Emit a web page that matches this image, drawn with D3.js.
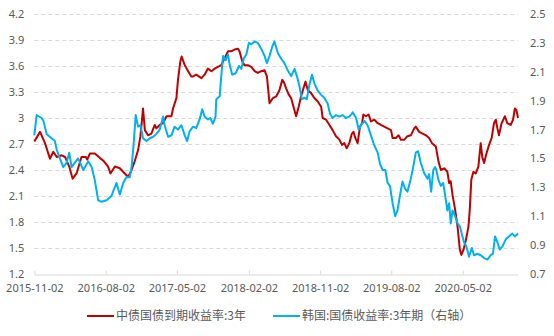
<!DOCTYPE html>
<html>
<head>
<meta charset="utf-8">
<script src="https://cdn.jsdelivr.net/npm/d3@7"></script>
<style>
  html, body { margin: 0; padding: 0; background: #fff; }
  svg { display: block; font-family: "Noto Sans CJK SC", "Noto Sans", sans-serif; }
</style>
</head>
<body>
<svg id="chart" width="554" height="336"></svg>
<script>
// 中债国债到期收益率:3年 (左轴, %)
const cnSeries = [
  ["2015-11-02",2.73],["2015-11-24",2.84],["2015-12-13",2.71],["2016-01-01",2.53],["2016-01-14",2.61],
  ["2016-01-27",2.55],["2016-02-15",2.57],["2016-02-28",2.55],["2016-03-15",2.44],["2016-03-28",2.30],
  ["2016-04-12",2.36],["2016-04-22",2.46],["2016-05-01",2.55],["2016-05-18",2.55],["2016-05-23",2.52],
  ["2016-06-02",2.59],["2016-06-21",2.59],["2016-07-10",2.54],["2016-07-26",2.50],["2016-08-11",2.44],
  ["2016-08-20",2.36],["2016-09-06",2.44],["2016-09-25",2.42],["2016-10-14",2.36],["2016-10-27",2.32],
  ["2016-11-09",2.40],["2016-11-21",2.50],["2016-12-04",2.63],["2016-12-13",2.79],["2016-12-19",2.98],
  ["2016-12-23",3.11],["2016-12-30",2.86],["2017-01-11",2.80],["2017-01-24",2.82],["2017-02-06",2.92],
  ["2017-02-12",2.88],["2017-02-25",2.92],["2017-03-10",2.94],["2017-03-23",3.02],["2017-04-11",3.02],
  ["2017-04-17",3.11],["2017-04-30",3.23],["2017-05-06",3.44],["2017-05-15",3.65],["2017-05-20",3.71],
  ["2017-06-01",3.61],["2017-06-14",3.54],["2017-06-26",3.48],["2017-07-03",3.48],["2017-07-15",3.50],
  ["2017-08-04",3.46],["2017-08-16",3.50],["2017-08-29",3.57],["2017-09-11",3.54],["2017-09-24",3.57],
  ["2017-10-06",3.59],["2017-10-19",3.61],["2017-11-01",3.69],["2017-11-14",3.77],["2017-11-26",3.77],
  ["2017-12-09",3.79],["2017-12-22",3.80],["2017-12-28",3.77],["2018-01-08",3.65],["2018-01-16",3.61],
  ["2018-01-29",3.61],["2018-02-11",3.59],["2018-02-24",3.54],["2018-03-08",3.52],["2018-03-21",3.54],
  ["2018-04-03",3.55],["2018-04-12",3.48],["2018-04-18",3.30],["2018-04-22",3.17],["2018-05-05",3.23],
  ["2018-05-18",3.25],["2018-05-30",3.32],["2018-06-10",3.44],["2018-06-18",3.40],["2018-06-25",3.34],
  ["2018-07-05",3.27],["2018-07-14",3.23],["2018-07-23",3.13],["2018-08-02",3.02],["2018-08-12",3.13],
  ["2018-08-21",3.25],["2018-08-28",3.32],["2018-09-07",3.42],["2018-09-16",3.32],["2018-09-28",3.29],
  ["2018-10-11",3.23],["2018-10-24",3.19],["2018-11-06",3.13],["2018-11-12",3.00],["2018-11-25",2.98],
  ["2018-12-08",2.92],["2018-12-20",2.86],["2019-01-02",2.79],["2019-01-15",2.75],["2019-01-25",2.69],
  ["2019-02-03",2.71],["2019-02-12",2.65],["2019-02-22",2.71],["2019-03-04",2.82],["2019-03-10",2.84],
  ["2019-03-17",2.77],["2019-03-26",2.71],["2019-04-04",2.90],["2019-04-12",2.94],["2019-04-17",3.04],
  ["2019-04-27",3.02],["2019-05-07",3.04],["2019-05-16",2.96],["2019-05-29",2.98],["2019-06-11",2.94],
  ["2019-06-23",2.92],["2019-07-06",2.90],["2019-07-19",2.88],["2019-08-01",2.86],["2019-08-07",2.77],
  ["2019-08-20",2.77],["2019-08-30",2.80],["2019-09-08",2.75],["2019-09-21",2.75],["2019-10-03",2.79],
  ["2019-10-16",2.80],["2019-10-29",2.88],["2019-11-04",2.90],["2019-11-17",2.84],["2019-11-30",2.82],
  ["2019-12-13",2.80],["2019-12-25",2.77],["2020-01-05",2.71],["2020-01-20",2.67],["2020-01-30",2.50],
  ["2020-02-08",2.40],["2020-02-21",2.42],["2020-03-04",2.38],["2020-03-11",2.25],["2020-03-17",2.27],
  ["2020-03-24",2.11],["2020-04-03",1.94],["2020-04-12",1.75],["2020-04-21",1.48],["2020-04-27",1.42],
  ["2020-05-05",1.48],["2020-05-14",1.59],["2020-05-24",1.75],["2020-05-29",1.94],["2020-06-04",2.29],
  ["2020-06-12",2.38],["2020-06-21",2.36],["2020-07-01",2.44],["2020-07-10",2.71],["2020-07-16",2.55],
  ["2020-07-23",2.48],["2020-08-01",2.59],["2020-08-11",2.69],["2020-08-21",2.77],["2020-08-30",2.94],
  ["2020-09-06",2.98],["2020-09-12",2.88],["2020-09-18",2.80],["2020-09-28",2.94],["2020-10-11",3.02],
  ["2020-10-20",2.94],["2020-11-02",2.92],["2020-11-11",2.98],["2020-11-18",3.11],["2020-11-24",3.09],
  ["2020-11-30",3.00]
];

// 韩国:国债收益率:3年期 (右轴, %)
const krSeries = [
  ["2015-11-02",1.66],["2015-11-11",1.80],["2015-11-30",1.78],["2015-12-07",1.76],["2015-12-19",1.67],
  ["2016-01-07",1.64],["2016-01-20",1.62],["2016-01-27",1.56],["2016-02-08",1.50],["2016-02-21",1.44],
  ["2016-03-05",1.47],["2016-03-15",1.54],["2016-03-24",1.44],["2016-04-18",1.50],["2016-05-08",1.42],
  ["2016-05-27",1.48],["2016-06-09",1.44],["2016-06-21",1.35],["2016-07-04",1.21],["2016-07-17",1.20],
  ["2016-08-05",1.21],["2016-08-24",1.24],["2016-08-30",1.27],["2016-09-12",1.33],["2016-09-25",1.25],
  ["2016-10-08",1.33],["2016-10-20",1.37],["2016-11-02",1.37],["2016-11-09",1.44],["2016-11-17",1.60],
  ["2016-11-25",1.80],["2016-12-04",1.72],["2016-12-13",1.73],["2016-12-23",1.64],["2017-01-05",1.62],
  ["2017-01-18",1.64],["2017-01-31",1.65],["2017-02-12",1.67],["2017-02-25",1.70],["2017-03-10",1.79],
  ["2017-03-16",1.73],["2017-03-29",1.65],["2017-04-11",1.66],["2017-04-23",1.72],["2017-05-06",1.70],
  ["2017-05-19",1.73],["2017-06-01",1.66],["2017-06-10",1.62],["2017-06-20",1.69],["2017-07-03",1.72],
  ["2017-07-15",1.71],["2017-07-28",1.77],["2017-08-07",1.84],["2017-08-16",1.79],["2017-08-29",1.77],
  ["2017-09-07",1.78],["2017-09-17",1.74],["2017-09-27",1.79],["2017-09-30",1.91],["2017-10-13",1.93],
  ["2017-10-19",2.07],["2017-10-26",2.21],["2017-11-05",2.18],["2017-11-14",2.22],["2017-11-20",2.15],
  ["2017-11-30",2.08],["2017-12-13",2.09],["2017-12-26",2.14],["2018-01-04",2.12],["2018-01-13",2.19],
  ["2018-01-23",2.22],["2018-02-02",2.30],["2018-02-11",2.29],["2018-02-24",2.31],["2018-03-08",2.30],
  ["2018-03-21",2.26],["2018-04-03",2.21],["2018-04-12",2.16],["2018-04-22",2.21],["2018-05-02",2.27],
  ["2018-05-11",2.31],["2018-05-24",2.23],["2018-06-06",2.19],["2018-06-18",2.16],["2018-07-01",2.11],
  ["2018-07-14",2.07],["2018-07-27",2.12],["2018-08-05",2.07],["2018-08-15",2.00],["2018-08-24",1.91],
  ["2018-09-03",1.92],["2018-09-12",1.91],["2018-09-22",2.01],["2018-10-02",2.08],["2018-10-11",2.02],
  ["2018-10-24",1.97],["2018-11-06",1.94],["2018-11-18",1.92],["2018-12-01",1.88],["2018-12-10",1.81],
  ["2018-12-20",1.78],["2019-01-02",1.80],["2019-01-15",1.79],["2019-01-28",1.80],["2019-02-09",1.78],
  ["2019-02-22",1.79],["2019-03-04",1.81],["2019-03-07",1.82],["2019-03-20",1.78],["2019-03-30",1.70],
  ["2019-04-08",1.73],["2019-04-21",1.76],["2019-05-03",1.73],["2019-05-16",1.66],["2019-05-29",1.59],
  ["2019-06-11",1.54],["2019-06-20",1.46],["2019-06-30",1.42],["2019-07-10",1.42],["2019-07-19",1.33],
  ["2019-07-28",1.31],["2019-08-07",1.19],["2019-08-17",1.10],["2019-08-26",1.14],["2019-09-04",1.24],
  ["2019-09-14",1.34],["2019-09-24",1.29],["2019-10-03",1.27],["2019-10-16",1.36],["2019-10-25",1.44],
  ["2019-11-04",1.54],["2019-11-13",1.55],["2019-11-23",1.47],["2019-12-06",1.40],["2019-12-19",1.36],
  ["2019-12-25",1.39],["2020-01-02",1.27],["2020-01-10",1.42],["2020-01-17",1.44],["2020-01-22",1.42],
  ["2020-01-30",1.35],["2020-02-08",1.31],["2020-02-17",1.33],["2020-02-25",1.24],["2020-03-04",1.14],
  ["2020-03-11",1.19],["2020-03-17",1.05],["2020-03-24",1.14],["2020-04-03",1.10],["2020-04-12",1.05],
  ["2020-04-21",1.03],["2020-04-28",0.98],["2020-05-07",0.92],["2020-05-16",0.89],["2020-05-26",0.82],
  ["2020-06-06",0.88],["2020-06-14",0.83],["2020-06-27",0.84],["2020-07-10",0.83],["2020-07-23",0.81],
  ["2020-08-05",0.80],["2020-08-17",0.83],["2020-08-26",0.84],["2020-09-03",0.96],["2020-09-12",0.92],
  ["2020-09-21",0.87],["2020-10-01",0.89],["2020-10-14",0.94],["2020-10-26",0.96],["2020-11-08",0.98],
  ["2020-11-18",0.96],["2020-11-30",0.98]
];

const leftTicks = [1.2, 1.5, 1.8, 2.1, 2.4, 2.7, 3.0, 3.3, 3.6, 3.9, 4.2];
const rightTicks = [0.7, 0.9, 1.1, 1.3, 1.5, 1.7, 1.9, 2.1, 2.3, 2.5];
const dateTicks = ["2015-11-02", "2016-08-02", "2017-05-02", "2018-02-02", "2018-11-02", "2019-08-02", "2020-05-02"];
const seriesNames = ["中债国债到期收益率:3年", "韩国:国债收益率:3年期（右轴）"];
const seriesColors = ["#C00000", "#00B0F0"];

const parse = d3.timeParse("%Y-%m-%d");
const cn = cnSeries.map(([d, v]) => ({ date: parse(d), value: v }));
const kr = krSeries.map(([d, v]) => ({ date: parse(d), value: v }));

const svg = d3.select("#chart");
const plot = { left: 34.3, right: 518, top: 14, bottom: 274 };

const x = d3.scaleTime()
  .domain([parse("2015-11-02"), parse("2020-11-30")])
  .range([plot.left, plot.right]);
const yL = d3.scaleLinear().domain([1.2, 4.2]).range([plot.bottom, plot.top]);
const yR = d3.scaleLinear().domain([0.7, 2.5]).range([plot.bottom, plot.top]);

const textColor = "#595959";
const numFont = "'Noto Sans', 'Noto Sans CJK SC', sans-serif";
const fmt = v => d3.format("~g")(+v.toFixed(1));

// dashed horizontal gridlines on the left-axis ticks
svg.append("g").selectAll("line")
  .data(leftTicks.filter(v => v !== 1.2))
  .join("line")
  .attr("x1", plot.left).attr("x2", plot.right)
  .attr("y1", d => Math.round(yL(d)) + 0.5).attr("y2", d => Math.round(yL(d)) + 0.5)
  .attr("stroke", "#d9d9d9").attr("stroke-width", 1)
  .attr("stroke-dasharray", "4,3");

// left axis labels
const axL = d3.axisLeft(yL).tickValues(leftTicks).tickFormat(fmt).tickSize(0).tickPadding(10);
svg.append("g").attr("transform", `translate(${plot.left},0)`).call(axL)
  .call(g => g.select(".domain").remove())
  .call(g => g.selectAll("text").attr("fill", textColor).attr("font-size", 11)
    .attr("font-family", numFont));

// right axis labels
const axR = d3.axisRight(yR).tickValues(rightTicks).tickFormat(fmt).tickSize(0).tickPadding(12);
svg.append("g").attr("transform", `translate(${plot.right},0)`).call(axR)
  .call(g => g.select(".domain").remove())
  .call(g => g.selectAll("text").attr("fill", textColor).attr("font-size", 11)
    .attr("font-family", numFont));

// bottom date axis with upward tick marks
const axB = d3.axisBottom(x).tickValues(dateTicks.map(parse))
  .tickFormat(d3.timeFormat("%Y-%m-%d")).tickSizeInner(-4).tickSizeOuter(0).tickPadding(10);
svg.append("g").attr("transform", `translate(0,${plot.bottom + 0.5})`).call(axB)
  .call(g => g.select(".domain").attr("stroke", "#d9d9d9"))
  .call(g => g.selectAll(".tick line").attr("stroke", "#d9d9d9"))
  .call(g => g.selectAll("text").attr("fill", textColor).attr("font-size", 11)
    .attr("font-family", numFont));

// series lines
const lineL = d3.line().x(d => x(d.date)).y(d => yL(d.value));
const lineR = d3.line().x(d => x(d.date)).y(d => yR(d.value));

svg.append("path").datum(cn).attr("d", lineL)
  .attr("fill", "none").attr("stroke", seriesColors[0]).attr("stroke-width", 2)
  .attr("stroke-linejoin", "round");
svg.append("path").datum(kr).attr("d", lineR)
  .attr("fill", "none").attr("stroke", seriesColors[1]).attr("stroke-width", 2)
  .attr("stroke-linejoin", "round");

// legend
const legend = svg.append("g").attr("font-size", 12).attr("fill", textColor);
const legendItems = [{ x: 87 }, { x: 273 }];
legendItems.forEach((it, i) => {
  legend.append("line")
    .attr("x1", it.x).attr("x2", it.x + 27)
    .attr("y1", 316).attr("y2", 316)
    .attr("stroke", seriesColors[i]).attr("stroke-width", 2);
  legend.append("text")
    .attr("x", it.x + 29).attr("y", 316).attr("dy", "0.35em")
    .attr("fill", textColor)
    .text(seriesNames[i]);
});
</script>
</body>
</html>
